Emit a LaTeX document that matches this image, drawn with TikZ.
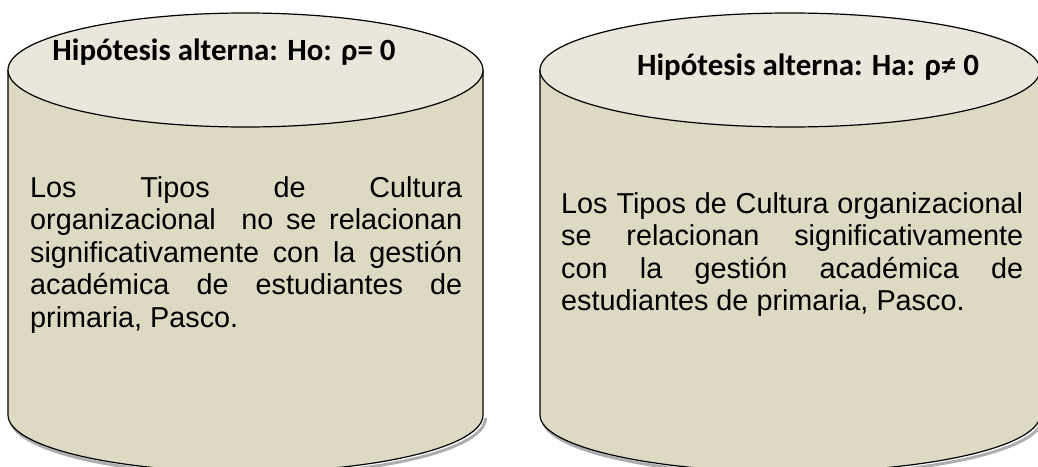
\documentclass[tikz,border=0pt]{standalone}
\usepackage{fontspec}
\setmainfont{Liberation Sans}
\newfontfamily\titlefont{Carlito}
\definecolor{bodyfill}{HTML}{DDD9C3}
\definecolor{topfill}{HTML}{EAE6DB}
\newcommand\jline[1]{\makebox[\linewidth][s]{#1}}
\begin{document}
\begin{tikzpicture}[x=1pt,y=1pt,
  outline/.style={draw=black, line width=1.2pt},
  shadowline/.style={draw=black!45, line width=3pt, opacity=0.7},
  titletext/.style={inner sep=0pt, anchor=base, font=\titlefont\bfseries\fontsize{30.9}{34}\selectfont},
  bodytext/.style={inner sep=0pt, anchor=base west, font=\fontsize{28.8}{32.5}\selectfont}]
\useasboundingbox (0,0) rectangle (1038,-466);
% left cylinder
\draw[shadowline] (10.5,-418) arc[start angle=180,end angle=360,x radius=237.5pt,y radius=57pt];
\fill[bodyfill] (8,-70) -- (8,-415) arc[start angle=180,end angle=360,x radius=237.5pt,y radius=57pt] -- (483,-70) -- cycle;
\draw[outline] (8,-70) -- (8,-415) arc[start angle=180,end angle=360,x radius=237.5pt,y radius=57pt] -- (483,-70);
\draw[outline, fill=topfill] (245.5,-70) ellipse[x radius=237.5pt, y radius=57pt];
% right cylinder
\draw[shadowline] (542.5,-418) arc[start angle=180,end angle=360,x radius=250pt,y radius=57pt];
\fill[bodyfill] (540,-70) -- (540,-415) arc[start angle=180,end angle=360,x radius=250pt,y radius=57pt] -- (1040,-70) -- cycle;
\draw[outline] (540,-70) -- (540,-415) arc[start angle=180,end angle=360,x radius=250pt,y radius=57pt] -- (1040,-70);
\draw[outline, fill=topfill] (790,-70) ellipse[x radius=250pt, y radius=57pt];
% titles
\node[titletext] (t1) at (224,-60) {Hipótesis alterna: Ho: ρ= 0};
\node[titletext] (t2) at (808,-75) {Hipótesis alterna: Ha: ρ≠ 0};
% body texts
\node[bodytext] (b1) at (30,-197) {\parbox[t]{432pt}{%
\jline{Los Tipos de Cultura}\\
\jline{organizacional\ \ no se relacionan}\\
\jline{significativamente con la gestión}\\
\jline{académica de estudiantes de}\\
primaria, Pasco.}};
\node[bodytext] (b2) at (561,-213) {\parbox[t]{462pt}{%
\jline{Los Tipos de Cultura organizacional}\\
\jline{se relacionan significativamente}\\
\jline{con la gestión académica de}\\
estudiantes de primaria, Pasco.}};
\end{tikzpicture}
\end{document}
